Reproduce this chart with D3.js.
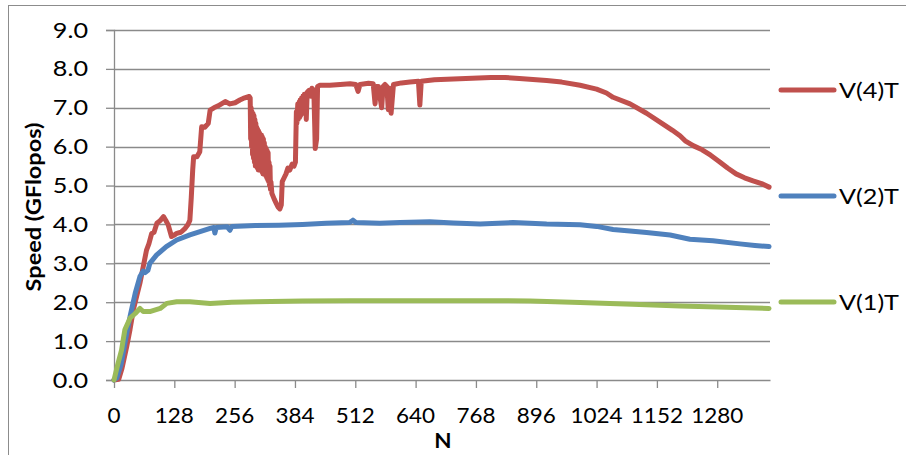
<!DOCTYPE html>
<html>
<head>
<meta charset="utf-8">
<script src="https://cdn.jsdelivr.net/npm/d3@7"></script>
<style>
  html, body { margin: 0; padding: 0; background: #fff; }
  svg { display: block; }
  text { font-family: Lato, "Open Sans", sans-serif; fill: #000; }
</style>
</head>
<body>
<svg id="chart" width="906" height="455"></svg>
<script>
// ---- data ----
const yTicks = [0, 1, 2, 3, 4, 5, 6, 7, 8, 9];
const xTicks = [0, 128, 256, 384, 512, 640, 768, 896, 1024, 1152, 1280];
const seriesNames = ["V(4)T", "V(2)T", "V(1)T"];
const seriesColors = ["#C0504D", "#4F81BD", "#9BBB59"];

// [N, GFlops]
const v4T = [
  [0,0],[10,0.02],[17,0.3],[27,0.86],[34,1.3],[41,1.8],[49,2.2],[55,2.49],[62,2.91],[69,3.34],
  [74,3.5],[80,3.77],[85,3.8],[91,4.03],[98,4.1],[105,4.2],[110,4.1],[115,3.99],[122,3.69],[127,3.72],
  [133,3.77],[142,3.8],[151,3.9],[157,4.0],[161,4.11],[164,4.7],[167,5.4],[169,5.74],[176,5.74],[182,5.87],
  [186,6.51],[193,6.5],[200,6.6],[204,6.94],[212,7.0],[221,7.05],[236,7.16],[246,7.1],[257,7.13],[267,7.2],
  [274,7.24],[287,7.29],[289,7.25],[290,6.2],[291,7.0],[292,6.0],[293,6.9],[294,5.8],[295,6.85],[296,5.7],
  [297,6.8],[298,5.6],[299,6.7],[300,5.5],[301,6.6],[302,5.5],[303,6.5],[304,5.45],[305,6.45],[306,5.4],
  [307,6.4],[308,5.4],[309,6.35],[310,5.4],[311,6.3],[312,5.4],[313,6.3],[314,5.35],[315,6.25],[316,5.3],
  [317,6.2],[318,5.3],[319,6.1],[320,5.3],[321,6.0],[322,5.25],[323,5.95],[324,5.2],[325,5.9],[326,5.15],
  [327,5.85],[328,5.1],[329,5.6],[330,5.0],[331,5.5],[332,4.9],[333,5.1],[335,4.8],[340,4.65],[344,4.55],
  [348,4.45],[352,4.4],[355,4.5],[357,5.1],[361,5.2],[365,5.3],[369,5.45],[373,5.4],[378,5.55],[382,5.5],
  [385,5.6],[387,6.9],[388,6.6],[390,7.1],[391,6.7],[393,7.15],[394,6.75],[395,7.2],[396,6.8],[398,7.25],
  [399,6.85],[401,7.3],[402,6.9],[404,7.35],[405,7.0],[407,7.35],[408,6.7],[410,7.4],[414,7.45],[418,7.3],
  [420,7.5],[424,7.45],[426,6.5],[427,5.95],[430,6.2],[432,7.55],[437,7.58],[458,7.58],[480,7.6],[501,7.62],
  [513,7.6],[518,7.42],[522,7.6],[540,7.63],[550,7.62],[554,7.1],[557,7.55],[561,7.55],[568,7.0],[571,7.55],
  [575,7.6],[579,7.55],[582,6.95],[585,7.5],[588,6.86],[591,7.3],[593,7.6],[610,7.64],[628,7.66],[646,7.68],
  [649,7.07],[652,7.68],[680,7.72],[720,7.74],[760,7.76],[800,7.78],[830,7.78],[860,7.75],[918,7.7],[950,7.66],
  [989,7.58],[1024,7.48],[1045,7.38],[1059,7.27],[1095,7.1],[1130,6.86],[1165,6.58],[1185,6.42],[1201,6.28],[1212,6.15],
  [1230,6.02],[1248,5.92],[1266,5.78],[1284,5.62],[1302,5.45],[1320,5.3],[1338,5.2],[1356,5.12],[1374,5.05],[1390,4.96]
];

const v2T = [
  [0,0],[6,0.05],[15,0.4],[23,0.94],[34,1.63],[45,2.23],[55,2.66],[62,2.8],[66,2.76],[72,2.82],
  [76,3.0],[90,3.21],[111,3.43],[133,3.6],[161,3.73],[204,3.9],[212,3.92],[214,3.78],[217,3.92],[240,3.94],
  [246,3.85],[250,3.95],[300,3.97],[350,3.98],[400,4.0],[450,4.03],[500,4.05],[507,4.11],[513,4.05],[564,4.03],
  [607,4.05],[670,4.07],[720,4.04],[777,4.01],[847,4.05],[918,4.01],[989,3.99],[1024,3.95],[1059,3.87],[1095,3.83],
  [1130,3.79],[1180,3.73],[1222,3.62],[1271,3.58],[1328,3.5],[1360,3.46],[1390,3.43]
];

const v1T = [
  [0,0],[8,0.4],[16,0.77],[23,1.29],[34,1.59],[45,1.71],[55,1.84],[62,1.76],[76,1.76],[98,1.84],
  [112,1.97],[133,2.01],[161,2.01],[204,1.97],[250,2.0],[300,2.01],[400,2.03],[500,2.04],[600,2.04],[700,2.04],
  [800,2.04],[883,2.03],[989,1.99],[1100,1.95],[1201,1.9],[1300,1.87],[1390,1.84]
];

const allSeries = [v4T, v2T, v1T];

// ---- layout ----
const svg = d3.select("#chart");
const x = d3.scaleLinear().domain([0, 1392]).range([114, 770]);
const y = d3.scaleLinear().domain([0, 9]).range([380, 30]);
const gridColor = "#8a8a8a";
const fs = 21;      // label font size
const sx = 1.2;     // horizontal text stretch of the reference
const sxX = 1.07;   // stretch for x tick labels

// outer frame
svg.append("rect")
  .attr("x", 8.5).attr("y", 5.5).attr("width", 910).attr("height", 470)
  .attr("fill", "none").attr("stroke", "#8c8c8c").attr("stroke-width", 1);

// gridlines
svg.append("g").selectAll("line").data(yTicks.filter(d => d > 0)).join("line")
  .attr("x1", x(0)).attr("x2", x.range()[1])
  .attr("y1", d => Math.round(y(d)) + 0.5).attr("y2", d => Math.round(y(d)) + 0.5)
  .attr("stroke", gridColor).attr("stroke-width", 1.3);

// y axis
const yAxis = svg.append("g")
  .attr("transform", `translate(${x(0)},0)`)
  .call(d3.axisLeft(y).tickValues(yTicks).tickSize(8).tickFormat(""));
yAxis.select(".domain").attr("stroke", gridColor).attr("stroke-width", 1.3);
yAxis.selectAll(".tick line").attr("stroke", gridColor).attr("stroke-width", 1.3);

svg.append("g").selectAll("text").data(yTicks).join("text")
  .attr("transform", d => `translate(88,${y(d)}) scale(${sx},1)`)
  .attr("text-anchor", "end").attr("dy", "0.36em")
  .attr("font-size", fs)
  .text(d => d3.format(".1f")(d));

// x axis
const xAxis = svg.append("g")
  .attr("transform", `translate(0,${y(0)})`)
  .call(d3.axisBottom(x).tickValues(xTicks).tickSize(8).tickFormat("").tickSizeOuter(0));
xAxis.select(".domain").attr("stroke", gridColor).attr("stroke-width", 1.3);
xAxis.selectAll(".tick line").attr("stroke", gridColor).attr("stroke-width", 1.3);

svg.append("g").selectAll("text").data(xTicks).join("text")
  .attr("transform", d => `translate(${x(d)},423) scale(${sxX},1)`)
  .attr("text-anchor", "middle")
  .attr("font-size", fs)
  .text(d => d3.format("d")(d));

// axis titles
svg.append("text")
  .attr("transform", "translate(41,207) rotate(-90) scale(1.12,1)")
  .attr("text-anchor", "middle")
  .attr("font-size", 21).attr("font-weight", "bold")
  .text("Speed (GFlopos)");
svg.append("text")
  .attr("transform", `translate(443,448) scale(${sxX},1)`)
  .attr("text-anchor", "middle")
  .attr("font-size", 21).attr("font-weight", "bold")
  .text("N");

// lines
const line = d3.line().x(d => x(d[0])).y(d => y(d[1]));
svg.append("g").selectAll("path").data(allSeries).join("path")
  .attr("d", line)
  .attr("fill", "none")
  .attr("stroke", (d, i) => seriesColors[i])
  .attr("stroke-width", 5)
  .attr("stroke-linejoin", "round")
  .attr("stroke-linecap", "round");

// legend
const legendY = [90, 196, 302];
const lg = svg.append("g").selectAll("g").data(seriesNames).join("g")
  .attr("transform", (d, i) => `translate(0,${legendY[i]})`);
lg.append("line")
  .attr("x1", 781).attr("x2", 834).attr("y1", 0).attr("y2", 0)
  .attr("stroke", (d, i) => seriesColors[i]).attr("stroke-width", 5).attr("stroke-linecap", "round");
lg.append("text")
  .attr("transform", `translate(839,0) scale(${sx},1)`)
  .attr("dy", "0.36em")
  .attr("font-size", fs)
  .text(d => d);
</script>
</body>
</html>
